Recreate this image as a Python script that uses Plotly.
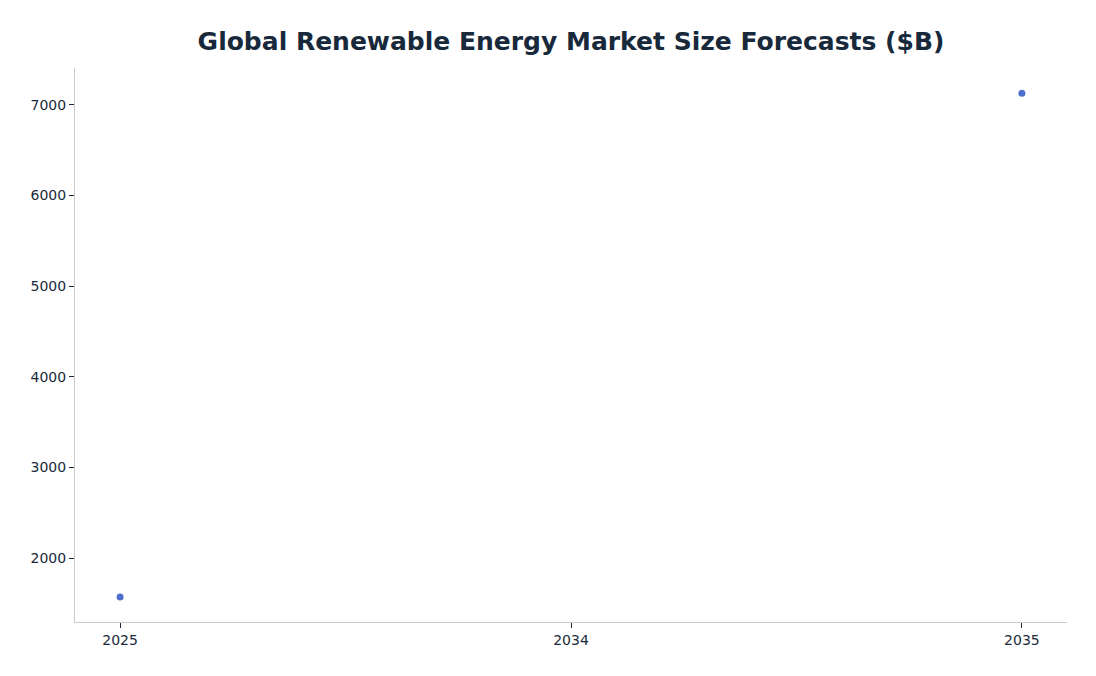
import plotly.graph_objects as go

# valeurs
years = ["2025", "2034", "2035"]
market_size = [1570, None, 7130]

fig = go.Figure(
    go.Scatter(
        x=years,
        y=market_size,
        mode="markers",
        marker=dict(color="#4f6fce", size=7),
        connectgaps=False,
    )
)

axis_common = dict(
    showgrid=False,
    zeroline=False,
    showline=True,
    linecolor="#cccccc",
    linewidth=1,
    ticks="outside",
    ticklen=5,
    tickcolor="#1a2a3a",
    tickfont=dict(size=14, color="#1a2a3a"),
)

fig.update_layout(
    width=1080,
    height=660,
    paper_bgcolor="white",
    plot_bgcolor="white",
    font=dict(family="DejaVu Sans", color="#1a2a3a"),
    title=dict(
        text="<b>Global Renewable Energy Market Size Forecasts ($B)</b>",
        xref="paper",
        x=0.5,
        xanchor="center",
        y=0.95,
        yanchor="middle",
        font=dict(size=25, color="#17293a"),
    ),
    margin=dict(l=67, r=21, t=60, b=46),
    showlegend=False,
    xaxis=dict(type="category", range=[-0.1, 2.1], **axis_common),
    yaxis=dict(range=[1294, 7408], tickvals=[2000, 3000, 4000, 5000, 6000, 7000], **axis_common),
)

fig.write_html("out.html")
